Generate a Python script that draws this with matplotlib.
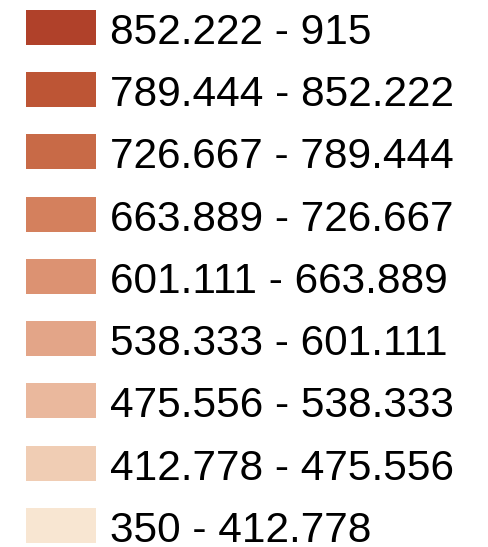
import matplotlib
matplotlib.use("Agg")
import matplotlib.pyplot as plt

labels = ["852.222 - 915", "789.444 - 852.222", "726.667 - 789.444",
          "663.889 - 726.667", "601.111 - 663.889", "538.333 - 601.111",
          "475.556 - 538.333", "412.778 - 475.556", "350 - 412.778"]
colors = ["#B0412A", "#BD5535", "#C86A47", "#D4805D", "#DC9272",
          "#E3A588", "#EAB89D", "#F0CDB4", "#F8E6D2"]

W, H = 489, 547
fig = plt.figure(figsize=(W / 100, H / 100), dpi=100)
ax = fig.add_axes([0, 0, 1, 1])
ax.set_xlim(0, W)
ax.set_ylim(H, 0)
ax.axis("off")

y0, dy = 27.2, 62.3
ys = [y0 + i * dy for i in range(len(labels))]
ax.barh(ys, 70, left=26, height=35, color=colors)
for y, lab in zip(ys, labels):
    ax.text(110, y + 16.5, lab, fontsize=30.5, family="Liberation Sans",
            va="baseline", ha="left", color="black")

fig.savefig("out.png", dpi=100)
